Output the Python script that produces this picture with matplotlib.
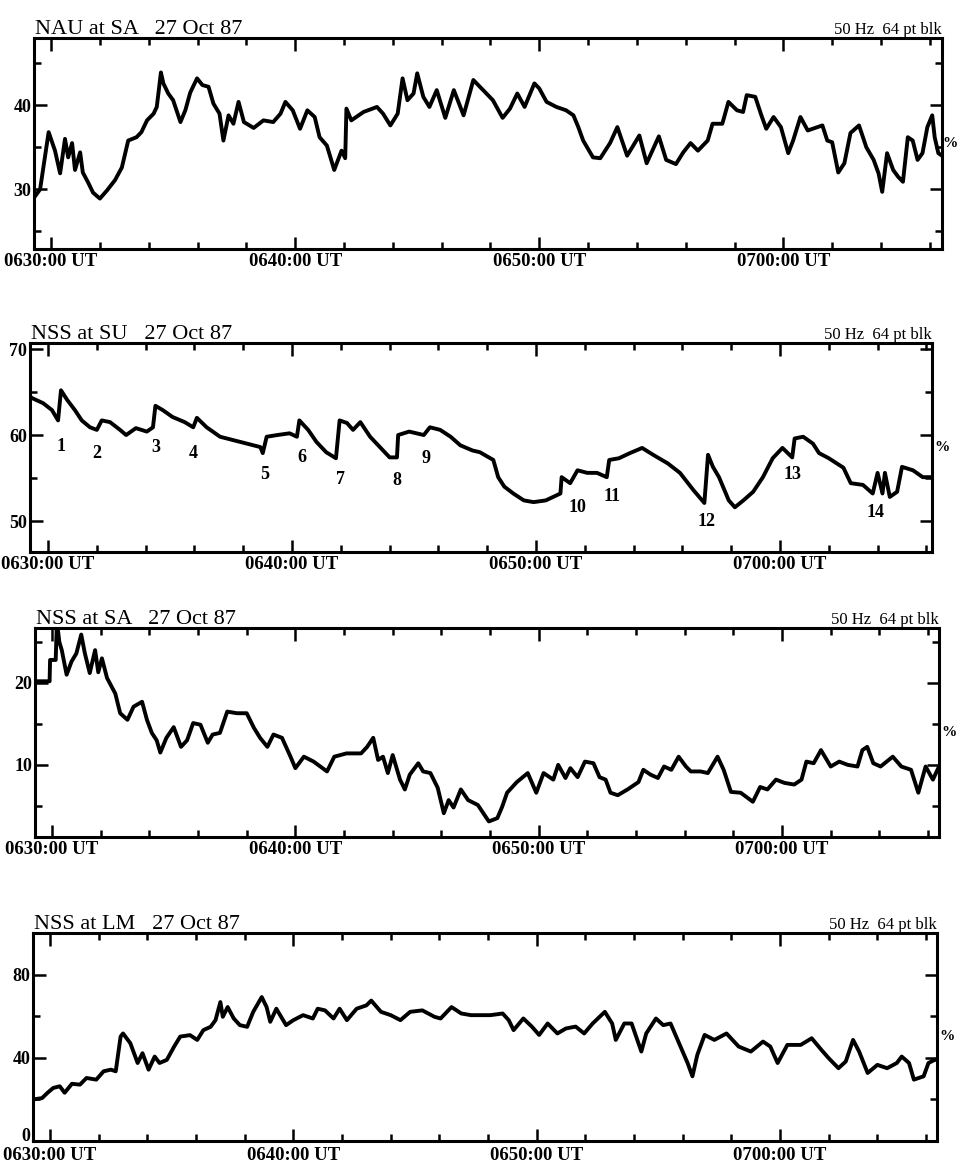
import matplotlib
matplotlib.use('Agg')
import matplotlib.pyplot as plt

plt.rcParams['font.family'] = ['Liberation Serif', 'DejaVu Serif']

# ---------------- data (time in minutes after 0630:00 UT, amplitude in %) ----------------
t1 = [-0.7, -0.45, -0.1, 0.16, 0.37, 0.57, 0.7, 0.86, 0.98, 1.19,
      1.3, 1.52, 1.72, 2.0, 2.3, 2.62, 2.9, 3.16, 3.5, 3.7,
      3.93, 4.2, 4.33, 4.5, 4.6, 4.8, 5.0, 5.3, 5.5, 5.7,
      5.98, 6.2, 6.45, 6.65, 6.9, 7.06, 7.27, 7.47, 7.68, 7.9,
      8.3, 8.7, 9.1, 9.4, 9.6, 9.9, 10.2, 10.5, 10.8, 11.0,
      11.3, 11.6, 11.9, 12.05, 12.1, 12.3, 12.8, 13.35, 13.6, 13.9,
      14.2, 14.4, 14.6, 14.85, 15.0, 15.25, 15.5, 15.8, 16.15, 16.5,
      16.9, 17.3, 17.7, 18.1, 18.5, 18.8, 19.1, 19.4, 19.8, 20.0,
      20.3, 20.7, 21.1, 21.4, 21.6, 21.8, 22.2, 22.5, 22.9, 23.2,
      23.6, 24.1, 24.4, 24.9, 25.2, 25.6, 25.9, 26.2, 26.5, 26.9,
      27.1, 27.5, 27.75, 28.1, 28.35, 28.5, 28.85, 29.1, 29.3, 29.6,
      29.9, 30.2, 30.4, 30.7, 31.0, 31.2, 31.6, 31.8, 32.0, 32.25,
      32.5, 32.75, 33.1, 33.4, 33.7, 33.9, 34.05, 34.25, 34.5, 34.7,
      34.9, 35.1, 35.3, 35.5, 35.7, 35.9, 36.1, 36.2, 36.35, 36.5]
v1 = [29.0, 30.0, 36.8, 34.6, 31.9, 36.0, 33.8, 35.5, 32.3, 34.4,
      32.0, 30.8, 29.6, 28.9, 29.9, 31.1, 32.6, 35.8, 36.2, 36.8,
      38.2, 39.0, 39.8, 43.9, 42.6, 41.4, 40.6, 38.0, 39.4, 41.5,
      43.2, 42.4, 42.2, 40.2, 39.0, 35.8, 38.8, 37.8, 40.4, 38.0,
      37.3, 38.2, 38.0, 39.0, 40.4, 39.4, 37.2, 39.4, 38.6, 36.2,
      35.2, 32.3, 34.6, 33.7, 39.6, 38.2, 39.2, 39.8, 39.0, 37.6,
      39.0, 43.2, 40.6, 41.4, 43.8, 41.0, 39.8, 41.8, 38.5, 41.8,
      38.8, 43.0, 41.8, 40.6, 38.5, 39.6, 41.4, 39.8, 42.6, 42.0,
      40.4, 39.8, 39.4, 38.8, 37.4, 35.8, 33.8, 33.7, 35.5, 37.4,
      34.0, 36.4, 33.1, 36.3, 33.5, 33.0, 34.4, 35.5, 34.6, 35.8,
      37.8, 37.8, 40.4, 39.4, 39.2, 41.2, 41.0, 38.8, 37.2, 38.6,
      37.4, 34.3, 35.8, 38.6, 37.0, 37.2, 37.6, 35.8, 35.6, 32.0,
      33.1, 36.7, 37.6, 35.0, 33.5, 31.9, 29.7, 34.3, 32.3, 31.5,
      30.9, 36.2, 35.8, 33.5, 34.3, 37.4, 38.8, 36.2, 34.3, 34.0]

t2 = [-0.74, -0.66, -0.2, 0.16, 0.41, 0.53, 0.78, 1.1, 1.38, 1.72,
      2.0, 2.2, 2.54, 2.95, 3.2, 3.6, 4.05, 4.3, 4.4, 4.7,
      5.1, 5.6, 5.95, 6.1, 6.5, 7.05, 7.6, 8.15, 8.7, 8.8,
      8.96, 9.4, 9.9, 10.2, 10.3, 10.66, 11.0, 11.4, 11.8, 11.95,
      12.25, 12.5, 12.8, 13.2, 13.6, 14.0, 14.3, 14.35, 14.8, 15.4,
      15.65, 16.07, 16.5, 16.9, 17.4, 17.7, 18.25, 18.45, 18.7, 19.07,
      19.5, 19.9, 20.4, 21.0, 21.05, 21.4, 21.7, 22.1, 22.5, 22.9,
      23.0, 23.4, 23.85, 24.35, 24.8, 25.4, 25.9, 26.45, 26.9, 27.05,
      27.25, 27.5, 27.9, 28.15, 28.5, 28.9, 29.3, 29.7, 30.1, 30.5,
      30.6, 30.95, 31.35, 31.6, 32.0, 32.6, 32.9, 33.4, 33.8, 34.0,
      34.2, 34.3, 34.5, 34.8, 35.0, 35.45, 35.85, 36.23]
v2 = [64.5, 64.3, 63.7, 62.9, 61.7, 65.2, 64.1, 62.9, 61.7, 60.9,
      60.6, 61.7, 61.5, 60.6, 60.0, 60.8, 60.4, 60.9, 63.4, 62.9,
      62.1, 61.5, 60.9, 62.0, 60.9, 59.8, 59.4, 59.0, 58.6, 57.9,
      59.8, 60.0, 60.2, 59.8, 61.7, 60.6, 59.2, 58.0, 57.3, 61.7,
      61.4, 60.6, 61.5, 59.8, 58.6, 57.4, 57.4, 60.0, 60.4, 60.0,
      60.9, 60.6, 59.8, 58.8, 58.2, 58.0, 57.1, 55.1, 54.0, 53.2,
      52.4, 52.2, 52.4, 53.2, 55.1, 54.4, 55.9, 55.6, 55.6, 55.1,
      57.1, 57.3, 57.9, 58.5, 57.7, 56.7, 55.6, 53.6, 52.1, 57.7,
      56.3, 55.1, 52.4, 51.6, 52.4, 53.4, 55.1, 57.3, 58.5, 57.4,
      59.6, 59.8, 59.0, 57.9, 57.3, 56.2, 54.4, 54.2, 53.2, 55.6,
      53.2, 55.6, 52.8, 53.4, 56.3, 55.9, 55.1, 55.1]

t3 = [-0.72, -0.7, -0.1, -0.08, 0.15, 0.2, 0.3, 0.4, 0.6, 0.8,
      1.0, 1.2, 1.35, 1.55, 1.77, 1.9, 2.05, 2.26, 2.6, 2.8,
      3.1, 3.35, 3.7, 3.9, 4.1, 4.3, 4.45, 4.7, 5.0, 5.3,
      5.55, 5.8, 6.1, 6.4, 6.6, 6.9, 7.2, 7.6, 8.0, 8.3,
      8.55, 8.85, 9.1, 9.45, 9.8, 10.0, 10.35, 10.75, 11.3, 11.6,
      12.1, 12.7, 12.95, 13.2, 13.4, 13.6, 13.8, 14.0, 14.3, 14.5,
      14.7, 15.05, 15.25, 15.55, 15.85, 16.1, 16.3, 16.5, 16.8, 17.1,
      17.5, 17.95, 18.3, 18.5, 18.7, 19.1, 19.55, 19.9, 20.2, 20.6,
      20.8, 21.1, 21.3, 21.6, 21.9, 22.25, 22.5, 22.75, 22.95, 23.25,
      23.65, 24.1, 24.3, 24.6, 24.9, 25.15, 25.45, 25.75, 26.05, 26.25,
      26.65, 26.95, 27.35, 27.6, 27.9, 28.3, 28.8, 29.1, 29.4, 29.75,
      30.1, 30.5, 30.8, 31.0, 31.3, 31.6, 32.0, 32.35, 32.7, 33.1,
      33.3, 33.5, 33.75, 34.05, 34.55, 34.9, 35.3, 35.6, 35.9, 36.2,
      36.45]
v3 = [28.0, 20.2, 20.2, 22.8, 22.8, 27.5, 25.0, 24.0, 21.0, 22.6,
      23.6, 25.9, 23.6, 21.2, 24.0, 21.3, 23.0, 20.6, 18.7, 16.3,
      15.5, 17.1, 17.7, 15.5, 13.9, 13.0, 11.5, 13.3, 14.6, 12.2,
      13.0, 15.1, 14.9, 12.7, 13.7, 13.9, 16.5, 16.3, 16.3, 14.5,
      13.3, 12.2, 13.7, 13.3, 11.0, 9.6, 11.0, 10.4, 9.2, 11.0,
      11.4, 11.4, 12.2, 13.3, 10.6, 11.0, 9.0, 11.2, 8.2, 7.0,
      8.8, 10.2, 9.2, 9.0, 7.2, 4.1, 5.7, 4.8, 7.0, 5.7,
      5.1, 3.1, 3.5, 4.9, 6.6, 7.9, 9.0, 6.6, 9.0, 8.2,
      10.0, 8.4, 9.6, 8.5, 10.4, 10.2, 8.5, 8.2, 6.6, 6.3,
      7.0, 7.9, 9.4, 8.8, 8.4, 9.8, 9.4, 11.0, 9.8, 9.2,
      9.2, 9.0, 11.0, 9.4, 6.7, 6.6, 5.5, 7.3, 7.0, 8.2,
      7.8, 7.6, 8.2, 10.4, 10.2, 11.8, 9.8, 10.4, 10.0, 9.8,
      11.8, 12.2, 10.2, 9.8, 11.0, 9.8, 9.4, 6.6, 9.8, 8.2,
      9.8]

t4 = [-0.7, -0.33, -0.1, 0.13, 0.4, 0.6, 0.9, 1.23, 1.5, 1.9,
      2.2, 2.5, 2.7, 2.9, 3.0, 3.3, 3.6, 3.8, 4.05, 4.3,
      4.5, 4.8, 5.1, 5.35, 5.75, 6.05, 6.3, 6.6, 6.8, 7.0,
      7.1, 7.3, 7.55, 7.8, 8.1, 8.35, 8.7, 8.9, 9.05, 9.3,
      9.7, 10.0, 10.4, 10.8, 11.0, 11.3, 11.65, 11.9, 12.2, 12.6,
      13.0, 13.2, 13.6, 14.0, 14.4, 14.8, 15.3, 15.8, 16.05, 16.5,
      16.9, 17.3, 18.1, 18.6, 18.85, 19.05, 19.45, 19.8, 20.1, 20.45,
      20.85, 21.2, 21.6, 21.95, 22.3, 22.8, 23.1, 23.25, 23.6, 23.9,
      24.3, 24.5, 24.9, 25.2, 25.5, 25.85, 26.2, 26.4, 26.6, 26.9,
      27.3, 27.8, 28.3, 28.8, 29.3, 29.6, 29.9, 30.3, 30.85, 31.3,
      31.7, 32.0, 32.4, 32.7, 33.0, 33.25, 33.6, 34.0, 34.4, 34.8,
      35.0, 35.3, 35.5, 35.9, 36.1, 36.35, 36.45]
v4 = [20.0, 20.6, 23.2, 25.5, 26.3, 23.2, 27.5, 27.1, 30.3, 29.5,
      33.5, 34.3, 33.5, 50.2, 51.7, 47.0, 37.5, 42.2, 34.3, 40.6,
      37.5, 39.0, 45.4, 50.2, 50.9, 48.6, 53.3, 54.9, 58.1, 66.8,
      59.7, 64.4, 58.9, 55.7, 54.9, 62.1, 69.2, 64.4, 57.3, 63.6,
      55.7, 58.1, 60.5, 58.9, 63.6, 62.8, 58.9, 63.6, 58.1, 63.6,
      65.2, 67.5, 62.1, 60.5, 58.1, 62.1, 62.8, 59.7, 58.9, 64.4,
      61.3, 60.5, 60.5, 61.3, 58.1, 53.3, 58.9, 55.0, 51.0, 56.5,
      51.7, 54.1, 55.0, 51.7, 56.5, 62.1, 56.5, 48.6, 56.5, 56.5,
      43.0, 51.7, 58.9, 55.7, 56.5, 47.0, 37.5, 31.1, 41.4, 51.0,
      48.6, 51.7, 45.4, 43.0, 47.8, 45.4, 37.5, 46.2, 46.2, 49.4,
      43.8, 39.8, 35.0, 38.2, 48.6, 43.0, 32.7, 36.6, 35.0, 37.5,
      40.6, 37.5, 29.5, 31.1, 37.5, 39.0, 39.0]

titles = ['NAU at SA   27 Oct 87', 'NSS at SU   27 Oct 87',
          'NSS at SA   27 Oct 87', 'NSS at LM   27 Oct 87']
info_label = '50 Hz  64 pt blk'
unit_label = '%'

x_major = [0, 10, 20, 30]
x_minor = [2, 4, 6, 8, 12, 14, 16, 18, 22, 24, 26, 28, 32, 34, 36]
x_labels = ['0630:00 UT', '0640:00 UT', '0650:00 UT', '0700:00 UT']

y_major = [[30, 40], [50, 60, 70], [10, 20], [0, 40, 80]]
y_minor = [[25, 35, 45], [55, 65], [5, 15, 25], [20, 60]]

# numbered events on the NSS at SU panel
event_labels = ['1', '2', '3', '4', '5', '6', '7', '8', '9', '10', '11', '12', '13', '14']
event_t = [0.53, 2.0, 4.4, 5.94, 8.89, 10.4, 11.97, 14.3, 15.5, 21.7, 23.1, 27.0, 30.5, 33.9]
event_v = [58.7, 57.9, 58.5, 57.8, 55.4, 57.4, 54.8, 54.7, 57.3, 51.6, 52.8, 50.0, 55.4, 51.0]

series = [(t1, v1), (t2, v2), (t3, v3), (t4, v4)]

# ---------------- layout (pixels) ----------------
W, H = 957, 1168
boxes = [(34, 38, 942, 249), (30, 343, 932, 552), (35, 628, 939, 837), (33, 933, 937, 1141)]
xlims = [(-0.70, 36.5), (-0.74, 36.23), (-0.70, 36.45), (-0.70, 36.45)]
ylims = [(22.9, 48.0), (46.4, 70.7), (1.2, 26.7), (0.0, 100.0)]
x_pads = [3, 3, 3, 4.5]
unit_offsets = [0.5, 2, 2, 2]

fig = plt.figure(figsize=(W / 100, H / 100), dpi=100)

for i in range(4):
    l, t, r, b = boxes[i]
    ax = fig.add_axes([l / W, 1 - b / H, (r - l) / W, (b - t) / H])
    tt, vv = series[i]
    ax.plot(tt, vv, color='black', lw=2.8, solid_joinstyle='round')
    ax.set_xlim(*xlims[i])
    ax.set_ylim(*ylims[i])

    ax.set_xticks(x_major)
    ax.set_xticks(x_minor, minor=True)
    ax.set_xticklabels(x_labels, fontsize=13.5, fontweight='bold')
    ax.set_yticks(y_major[i])
    ax.set_yticks(y_minor[i], minor=True)
    ax.set_yticklabels([str(y) for y in y_major[i]], fontsize=13, fontweight='bold')

    ax.tick_params(which='both', direction='in', top=True, right=True,
                   width=1.8, color='black')
    ax.tick_params(which='major', length=9)
    ax.tick_params(which='minor', length=5)
    ax.tick_params(axis='x', which='major', pad=x_pads[i])
    ax.tick_params(axis='y', which='major', pad=2)
    for sp in ax.spines.values():
        sp.set_linewidth(2.2)

    # a y label sitting on the bottom axis line is lifted to clear the time labels
    if y_major[i][0] == ylims[i][0]:
        ax.get_yticklabels()[0].set_verticalalignment('baseline')

    ax.annotate(titles[i], xy=(0, 1), xycoords='axes fraction',
                xytext=(1, 3), textcoords='offset points',
                ha='left', va='baseline', fontsize=16)
    ax.annotate(info_label, xy=(1, 1), xycoords='axes fraction',
                xytext=(0, 3), textcoords='offset points',
                ha='right', va='baseline', fontsize=12)
    ax.annotate(unit_label, xy=(1, 0.5), xycoords='axes fraction',
                xytext=(unit_offsets[i], 0), textcoords='offset points',
                ha='left', va='center', fontsize=11, fontweight='bold')

    if i == 1:
        for lab, et, ev in zip(event_labels, event_t, event_v):
            ax.text(et, ev, lab, ha='center', va='center',
                    fontsize=13, fontweight='bold')

fig.savefig('out.png', dpi=100)
